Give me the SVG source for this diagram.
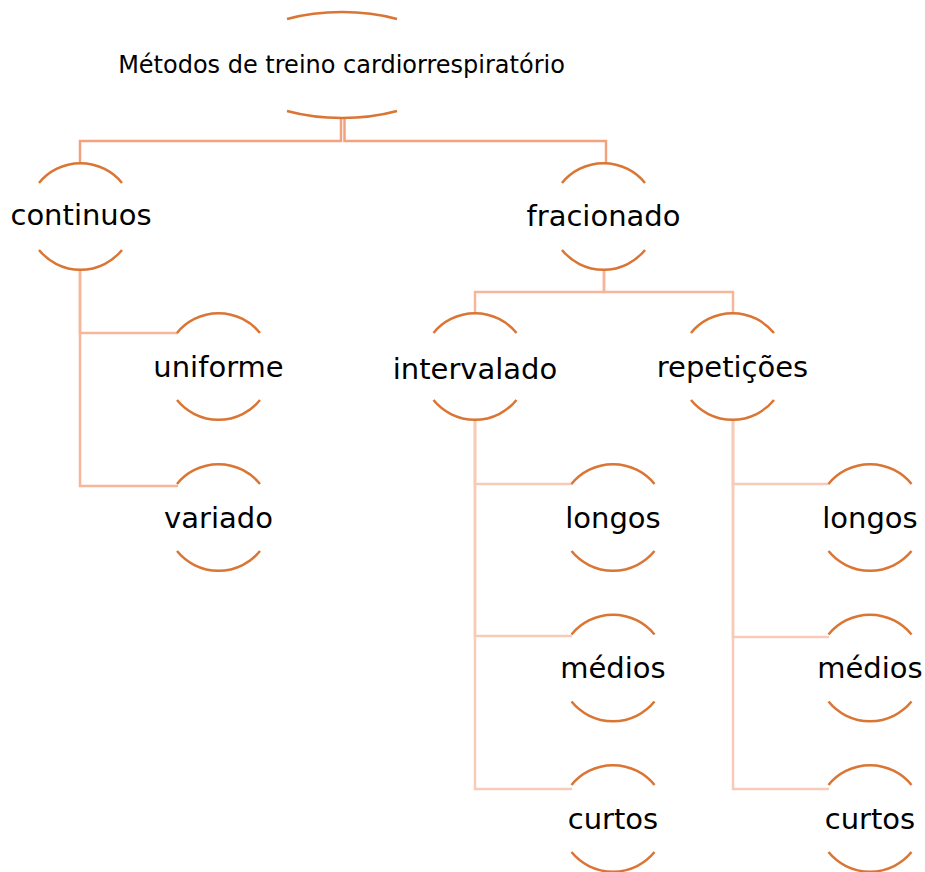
<svg xmlns="http://www.w3.org/2000/svg" xmlns:xlink="http://www.w3.org/1999/xlink" width="925" height="872" viewBox="0 0 925 872">
  <style>
    .arc { fill: none; stroke: #DA7533; stroke-width: 2.5; }
    .lbl { font-family: "DejaVu Sans", "Liberation Sans", sans-serif; font-size: 29px; fill: #000; text-anchor: middle; }
    .root { font-size: 24px; }
    .c1 { fill: none; stroke: #F2A27E; stroke-width: 2.5; }
    .c2 { fill: none; stroke: #F5B69A; stroke-width: 2.5; }
    .c3 { fill: none; stroke: #F8CAB8; stroke-width: 2.5; }
  </style>
  <defs>
    <path id="ring" class="arc" d="M-41.5,-33.5 A53.5,53.5 0 0 1 41.5,-33.5 M-41.5,33.5 A53.5,53.5 0 0 0 41.5,33.5"/>
  </defs>
  <rect width="925" height="872" fill="#fff"/>

  <g id="connectors">
    <path class="c1" d="M341,118 V141 H80 V163"/>
    <path class="c1" d="M344.5,118 V141 H606 V163"/>
    <path class="c2" d="M80,270 V333 H178"/>
    <path class="c2" d="M80,270 V486 H178"/>
    <path class="c2" d="M604,269 V292 H475 V313"/>
    <path class="c2" d="M604,269 V292 H733 V313"/>
    <path class="c3" d="M475,420 V484 H572"/>
    <path class="c3" d="M475,420 V636 H572"/>
    <path class="c3" d="M475,420 V789 H572"/>
    <path class="c3" d="M733,420 V484 H829"/>
    <path class="c3" d="M733,420 V637 H829"/>
    <path class="c3" d="M733,420 V789 H829"/>
  </g>

  <g id="root">
    <path class="arc" d="M287,19 A111,53 0 0 1 397,19 M287,111 A111,53 0 0 0 397,111"/>
    <text class="lbl root" x="341.5" y="73">Métodos de treino cardiorrespiratório</text>
  </g>
  <g id="continuos">
    <use xlink:href="#ring" x="80.5" y="216.5"/>
    <text class="lbl" x="81" y="225">continuos</text>
  </g>
  <g id="fracionado">
    <use xlink:href="#ring" x="603.5" y="216.5"/>
    <text class="lbl" x="603.5" y="226">fracionado</text>
  </g>
  <g id="uniforme">
    <use xlink:href="#ring" x="218.5" y="366.5"/>
    <text class="lbl" x="218.5" y="377">uniforme</text>
  </g>
  <g id="variado">
    <use xlink:href="#ring" x="218.5" y="517.5"/>
    <text class="lbl" x="218.5" y="528">variado</text>
  </g>
  <g id="intervalado">
    <use xlink:href="#ring" x="475" y="366.5"/>
    <text class="lbl" x="475" y="379">intervalado</text>
  </g>
  <g id="repeticoes">
    <use xlink:href="#ring" x="732.5" y="366.5"/>
    <text class="lbl" x="732.5" y="377">repetições</text>
  </g>
  <g id="longos-intervalado">
    <use xlink:href="#ring" x="613" y="517.5"/>
    <text class="lbl" x="613" y="527.5">longos</text>
  </g>
  <g id="medios-intervalado">
    <use xlink:href="#ring" x="613" y="668"/>
    <text class="lbl" x="613" y="678">médios</text>
  </g>
  <g id="curtos-intervalado">
    <use xlink:href="#ring" x="613" y="818.5"/>
    <text class="lbl" x="613" y="829">curtos</text>
  </g>
  <g id="longos-repeticoes">
    <use xlink:href="#ring" x="870" y="517.5"/>
    <text class="lbl" x="870" y="527.5">longos</text>
  </g>
  <g id="medios-repeticoes">
    <use xlink:href="#ring" x="870" y="668"/>
    <text class="lbl" x="870" y="678">médios</text>
  </g>
  <g id="curtos-repeticoes">
    <use xlink:href="#ring" x="870" y="818.5"/>
    <text class="lbl" x="870" y="829">curtos</text>
  </g>
</svg>
